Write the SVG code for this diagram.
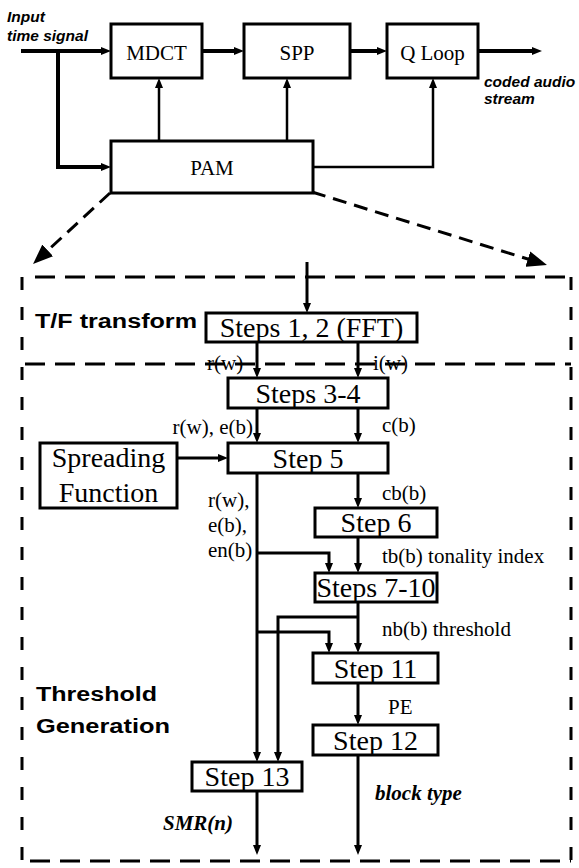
<svg xmlns="http://www.w3.org/2000/svg" width="579" height="868" viewBox="0 0 579 868">
  <defs>
    <!-- small solid arrowhead; tip sits 5px past the path end -->
    <marker id="ah" markerUnits="userSpaceOnUse" markerWidth="10" markerHeight="8" refX="5" refY="4" orient="auto">
      <path d="M0,0 L10,4 L0,8 z" fill="#000"/>
    </marker>
    <!-- large arrowhead for the dashed expansion arrows -->
    <marker id="bigah" markerUnits="userSpaceOnUse" markerWidth="20" markerHeight="16" refX="10" refY="8" orient="auto">
      <path d="M0,0 L20,8 L0,16 z" fill="#000"/>
    </marker>
  </defs>
  <style>
    .box{fill:#fff;stroke:#000;stroke-width:3}
    .ln{fill:none;stroke:#000;stroke-width:3}
    .thick{stroke-width:4}
    .thin{stroke-width:2.5}
    .node{font-family:"Liberation Serif","Times New Roman",serif;font-size:28px;text-anchor:middle;fill:#000}
    .topnode{font-size:21px}
    .lbl{font-family:"Liberation Serif","Times New Roman",serif;font-size:21px;fill:#000}
    .bi{font-weight:bold;font-style:italic}
    .sans{font-family:"Liberation Sans",Arial,sans-serif;font-weight:bold;fill:#000}
    .hd{fill:none;stroke:#000;stroke-width:3;stroke-dasharray:20 10}
    .vd{fill:none;stroke:#000;stroke-width:3;stroke-dasharray:13 17}
    .dd{fill:none;stroke:#000;stroke-width:3;stroke-dasharray:14 8}
  </style>

  <rect width="579" height="868" fill="#fff"/>

  <!-- encoder overview -->
  <g id="mdct"><rect class="box" x="111" y="24" width="91" height="54"/><text class="node topnode" x="156.5" y="60">MDCT</text></g>
  <g id="spp"><rect class="box" x="244" y="24" width="106" height="54"/><text class="node topnode" x="297" y="60">SPP</text></g>
  <g id="qloop"><rect class="box" x="387" y="24" width="91" height="54"/><text class="node topnode" x="432.5" y="60">Q Loop</text></g>
  <g id="pam"><rect class="box" x="111" y="141" width="202" height="52"/><text class="node topnode" x="212" y="175">PAM</text></g>

  <!-- psychoacoustic model detail frame -->
  <g id="frame">
    <path class="hd" d="M35,277 H571"/>
    <path class="vd" d="M22,277 V862"/>
    <path class="vd" d="M571,277 V862"/>
    <path class="hd" d="M30,861 H571"/>
    <path class="hd" d="M25,364 H571"/>
  </g>

  <g id="steps12"><rect class="box" x="206" y="313" width="211" height="29"/><text class="node" x="311.5" y="337">Steps 1, 2 (FFT)</text></g>
  <g id="steps34"><rect class="box" x="228" y="378" width="160" height="30"/><text class="node" x="308" y="403">Steps 3-4</text></g>
  <g id="step5"><rect class="box" x="228" y="443" width="160" height="30"/><text class="node" x="308" y="468">Step 5</text></g>
  <g id="spreading"><rect class="box" x="40" y="443" width="137" height="65"/><text class="node" x="108.5" y="467">Spreading</text><text class="node" x="108.5" y="502">Function</text></g>
  <g id="step6"><rect class="box" x="315" y="508" width="122" height="29"/><text class="node" x="376" y="532">Step 6</text></g>
  <g id="steps710"><rect class="box" x="315" y="573" width="122" height="29"/><text class="node" x="376" y="597">Steps 7-10</text></g>
  <g id="step11"><rect class="box" x="313" y="653" width="125" height="30"/><text class="node" x="375.5" y="678">Step 11</text></g>
  <g id="step12"><rect class="box" x="313" y="725" width="125" height="30"/><text class="node" x="375.5" y="750">Step 12</text></g>
  <g id="step13"><rect class="box" x="192" y="762" width="110" height="29"/><text class="node" x="247" y="786">Step 13</text></g>

  <g id="connectors">
    <!-- overview signal path -->
    <path class="ln thick" d="M21,51 H106" marker-end="url(#ah)"/>
    <path class="ln thick" d="M58,51 V167 H106" marker-end="url(#ah)"/>
    <path class="ln thick" d="M202,51 H239" marker-end="url(#ah)"/>
    <path class="ln thick" d="M350,51 H382" marker-end="url(#ah)"/>
    <path class="ln thick" d="M478,51 H537" marker-end="url(#ah)"/>
    <path class="ln thin" d="M159,141 V83" marker-end="url(#ah)"/>
    <path class="ln thin" d="M287,141 V83" marker-end="url(#ah)"/>
    <path class="ln thin" d="M313,167 H433 V83" marker-end="url(#ah)"/>
    <!-- expansion of PAM -->
    <path class="dd" d="M110,193 L40.4,257.2" marker-end="url(#bigah)"/>
    <path class="dd" d="M312,192 L537.4,262" marker-end="url(#bigah)"/>
    <!-- detail flow -->
    <path class="ln" d="M307,262 V308" marker-end="url(#ah)"/>
    <path class="ln" d="M257,342 V373" marker-end="url(#ah)"/>
    <path class="ln" d="M358,342 V373" marker-end="url(#ah)"/>
    <path class="ln" d="M257,408 V438" marker-end="url(#ah)"/>
    <path class="ln" d="M358,408 V438" marker-end="url(#ah)"/>
    <path class="ln" d="M177,458 H223" marker-end="url(#ah)"/>
    <path class="ln" d="M257,473 V757" marker-end="url(#ah)"/>
    <path class="ln" d="M358,473 V503" marker-end="url(#ah)"/>
    <path class="ln" d="M358,537 V568" marker-end="url(#ah)"/>
    <path class="ln" d="M257,553 H329 V568" marker-end="url(#ah)"/>
    <path class="ln" d="M358,602 V648" marker-end="url(#ah)"/>
    <path class="ln" d="M358,617 H278 V757" marker-end="url(#ah)"/>
    <path class="ln" d="M257,632 H329 V648" marker-end="url(#ah)"/>
    <path class="ln" d="M358,683 V720" marker-end="url(#ah)"/>
    <path class="ln" d="M257,791 V850" marker-end="url(#ah)"/>
    <path class="ln" d="M358,755 V850" marker-end="url(#ah)"/>
  </g>

  <g id="labels">
    <text class="sans" font-style="italic" font-size="15.5" x="7" y="22">Input</text>
    <text class="sans" font-style="italic" font-size="15.5" x="7" y="41">time signal</text>
    <text class="sans" font-style="italic" font-size="15.5" x="484" y="87">coded audio</text>
    <text class="sans" font-style="italic" font-size="15.5" x="484" y="104">stream</text>
    <text class="sans" font-size="20" x="35" y="328" textLength="162" lengthAdjust="spacingAndGlyphs">T/F transform</text>
    <text class="sans" font-size="20" x="36" y="701" textLength="121" lengthAdjust="spacingAndGlyphs">Threshold</text>
    <text class="sans" font-size="20" x="36" y="733" textLength="134" lengthAdjust="spacingAndGlyphs">Generation</text>
    <text class="lbl" x="207" y="370">r(w)</text>
    <text class="lbl" x="373" y="370">i(w)</text>
    <text class="lbl" x="253" y="434" text-anchor="end">r(w), e(b)</text>
    <text class="lbl" x="382" y="432">c(b)</text>
    <text class="lbl" x="382" y="500">cb(b)</text>
    <text class="lbl" x="208" y="507">r(w),</text>
    <text class="lbl" x="208" y="532">e(b),</text>
    <text class="lbl" x="208" y="557">en(b)</text>
    <text class="lbl" x="382" y="563">tb(b) tonality index</text>
    <text class="lbl" x="382" y="636">nb(b) threshold</text>
    <text class="lbl" x="388" y="714">PE</text>
    <text class="lbl bi" x="163" y="830">SMR(n)</text>
    <text class="lbl bi" x="375" y="800">block type</text>
  </g>
</svg>
